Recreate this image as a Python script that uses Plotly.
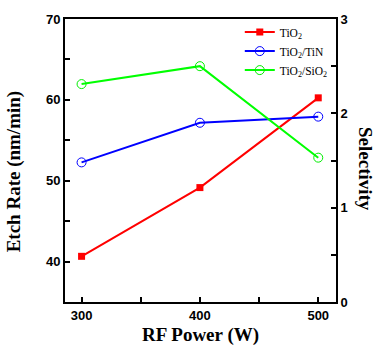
import plotly.graph_objects as go

rf_power = [300, 400, 500]
etch_tio2 = [40.65, 49.15, 60.25]
sel_tin = [1.48, 1.90, 1.965]
sel_sio2 = [2.31, 2.50, 1.53]

names = ["TiO<sub>2</sub>", "TiO<sub>2</sub>/TiN", "TiO<sub>2</sub>/SiO<sub>2</sub>"]

fig = go.Figure()
fig.add_trace(go.Scatter(x=rf_power, y=etch_tio2, name=names[0], mode="lines+markers",
                         line=dict(color="#ff0000", width=2),
                         marker=dict(symbol="square", size=7, color="#ff0000")))
fig.add_trace(go.Scatter(x=rf_power, y=sel_tin, name=names[1], mode="lines+markers", yaxis="y2",
                         line=dict(color="#0000ff", width=2),
                         marker=dict(symbol="circle-open", size=9, color="#0000ff", line=dict(width=1))))
fig.add_trace(go.Scatter(x=rf_power, y=sel_sio2, name=names[2], mode="lines+markers", yaxis="y2",
                         line=dict(color="#00ff00", width=2),
                         marker=dict(symbol="circle-open", size=9, color="#00ee00", line=dict(width=1))))

tickfont = dict(family="Liberation Sans", size=13, color="black", weight="bold")
axcommon = dict(showline=True, linecolor="black", linewidth=2, ticks="inside", ticklen=5,
                tickwidth=2, tickcolor="black", showgrid=False, zeroline=False, tickfont=tickfont)

fig.update_layout(
    width=379, height=354,
    margin=dict(l=65, r=43, t=18, b=50),
    paper_bgcolor="white", plot_bgcolor="white",
    showlegend=True,
    legend=dict(x=0.645, y=1.005, xanchor="left", yanchor="top", bgcolor="rgba(0,0,0,0)",
                font=dict(family="Liberation Serif", size=11.5, color="black"),
                itemwidth=30, tracegroupgap=0),
    xaxis=dict(range=[286, 515], tickvals=[300, 400, 500], mirror=True,
               minor=dict(ticks="inside", dtick=50, tick0=300, ticklen=5, tickwidth=2, tickcolor="black"),
               title=dict(text="<b>RF Power (W)</b>", font=dict(family="Liberation Serif", size=19, color="black"),
                          standoff=6),
               **axcommon),
    yaxis=dict(range=[35, 70], dtick=10, tick0=40, mirror=False,
               minor=dict(ticks="inside", dtick=5, tick0=40, ticklen=5, tickwidth=2, tickcolor="black"),
               **axcommon),
    yaxis2=dict(range=[0, 3], dtick=1, overlaying="y", side="right",
                minor=dict(ticks="inside", dtick=0.5, tick0=0, ticklen=5, tickwidth=2, tickcolor="black"),
                **axcommon),
    annotations=[
        dict(text="<b>Etch Rate (nm/min)</b>", xref="paper", yref="paper", x=-0.19, y=0.46,
             xanchor="center", yanchor="middle", textangle=-90, showarrow=False,
             font=dict(family="Liberation Serif", size=19, color="black")),
        dict(text="<b>Selectivity</b>", xref="paper", yref="paper", x=1.107, y=0.47,
             xanchor="center", yanchor="middle", textangle=90, showarrow=False,
             font=dict(family="Liberation Serif", size=19, color="black")),
    ],
)

fig.write_html("out.html")
